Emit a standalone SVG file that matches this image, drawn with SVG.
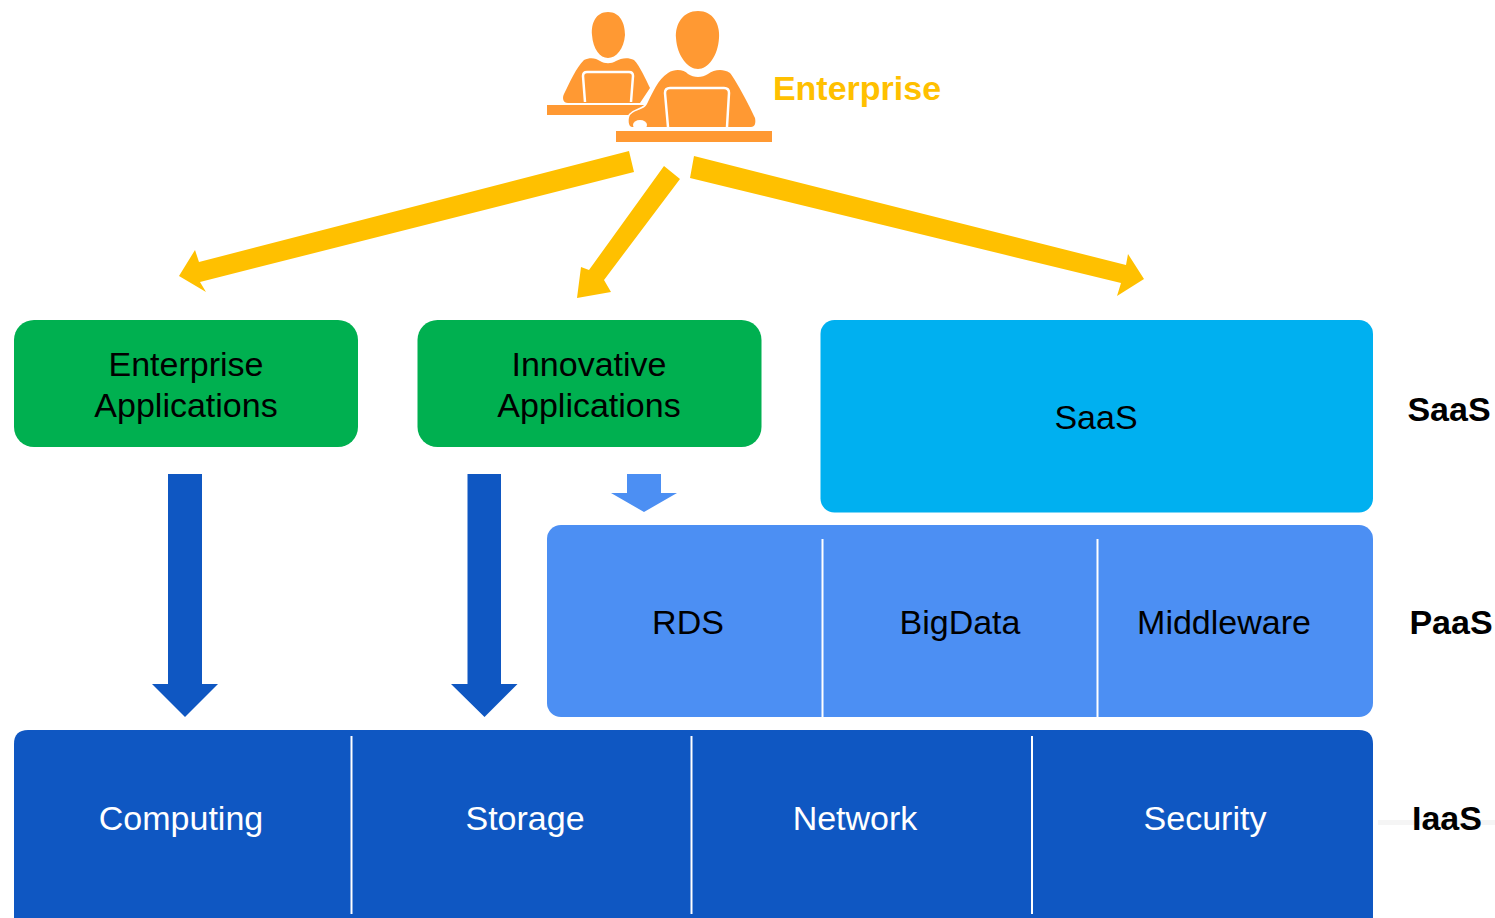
<svg xmlns="http://www.w3.org/2000/svg" width="1495" height="918" viewBox="0 0 1495 918">
<style>
text{font-family:"Liberation Sans",Arial,sans-serif;font-size:34px;text-anchor:middle;fill:#000}
.w{fill:#fff}
.b{font-weight:bold}
.sep{stroke:#fff;stroke-width:2;fill:none}
.y{fill:#ffc000}
.o{fill:#ff9933}
.ol{fill:none;stroke:#fff;stroke-width:2.5}
</style>
<rect width="1495" height="918" fill="#fff"/>
<rect x="1378" y="820" width="117" height="5" fill="#f5f5f5"/>
<g id="connectors">
<polygon class="y" points="629,151 634,172 200,282 206,292 179,276 195,250 199,262"/>
<polygon class="y" points="664,166 680,179 604,280 611,292 577,298 581,267 589,270"/>
<polygon class="y" points="694,156 690,178 1121,283 1117,296 1144,279 1128,254 1126,265"/>
<polygon fill="#0f57c2" points="168,474 202,474 202,684 218,684 185,717 152,684 168,684"/>
<polygon fill="#0f57c2" points="467.500,474 501,474 501,684 517.500,684 484.500,717 451,684 467.500,684"/>
<polygon fill="#4c8ff3" points="627,474 661,474 661,493 677,493 644,512 611,493 627,493"/>
</g>
<g id="enterprise">
<path class="o" d="M608,12C620,12 625,23 625,35C624,49 616,58 608,58C600,58 593,49 592,35C591,23 596,12 608,12Z"/>
<path class="o" d="M584,60C590,57 596,58 600,61C605,64 611,64 616,61C621,58 628,57 634,60C640,66 646,80 650,88L640,103L568,103C563,103 562,98 564,94C570,82 576,68 584,60Z"/>
<rect class="o" x="547" y="105" width="104" height="10"/>
<path class="ol" d="M585,102L583,76Q583,72 587,72L629,72Q633,72 633,76L631,102"/>
<path class="o" stroke="#fff" stroke-width="3" paint-order="stroke" d="M668,73C676,68 684,70 688,74C694,78 702,78 708,74C714,70 722,68 730,73C737,82 750,107 755,118C756,123 755,127 751,127L632,127C628,127 628,118 630,115C636,109 644,110 647,104C652,94 658,79 668,73Z"/>
<path class="o" d="M698,11C713,11 720,24 719,38C718,56 708,69 698,69C688,69 677,56 676,38C675,24 683,11 698,11Z"/>
<ellipse cx="640" cy="125" rx="7" ry="5" fill="#fff"/>
<rect class="o" x="616" y="131" width="156" height="11"/>
<path class="ol" d="M668,127L665,93Q665,88 670,88L724,88Q729,88 729,93L727,127"/>
<text x="857" y="100" class="b y">Enterprise</text>
</g>
<g id="enterprise-applications">
<rect x="14" y="320" width="344" height="127" rx="20" fill="#00b050"/>
<text x="186" y="376">Enterprise</text>
<text x="186" y="417">Applications</text>
</g>
<g id="innovative-applications">
<rect x="417.500" y="320" width="344" height="127" rx="20" fill="#00b050"/>
<text x="589" y="376">Innovative</text>
<text x="589" y="417">Applications</text>
</g>
<g id="saas">
<rect x="820.500" y="320" width="552.500" height="192.500" rx="14" fill="#00b0f0"/>
<text x="1096" y="429">SaaS</text>
</g>
<g id="paas">
<rect x="547" y="525" width="826" height="192" rx="14" fill="#4c8ff3"/>
<line class="sep" x1="822.500" y1="539" x2="822.500" y2="717"/>
<line class="sep" x1="1097.500" y1="539" x2="1097.500" y2="717"/>
<text x="688" y="634">RDS</text>
<text x="960" y="634">BigData</text>
<text x="1224" y="634">Middleware</text>
</g>
<g id="iaas">
<path fill="#0f57c2" d="M28,730H1359Q1373,730 1373,744V918H14V744Q14,730 28,730Z"/>
<line class="sep" x1="351.500" y1="736" x2="351.500" y2="914"/>
<line class="sep" x1="691.500" y1="736" x2="691.500" y2="914"/>
<line class="sep" x1="1032" y1="736" x2="1032" y2="914"/>
<text class="w" x="181" y="830">Computing</text>
<text class="w" x="525" y="830">Storage</text>
<text class="w" x="855" y="830">Network</text>
<text class="w" x="1205" y="830">Security</text>
</g>
<g id="labels">
<text class="b" x="1449" y="421">SaaS</text>
<text class="b" x="1451" y="634">PaaS</text>
<text class="b" x="1447" y="830">IaaS</text>
</g>
</svg>
